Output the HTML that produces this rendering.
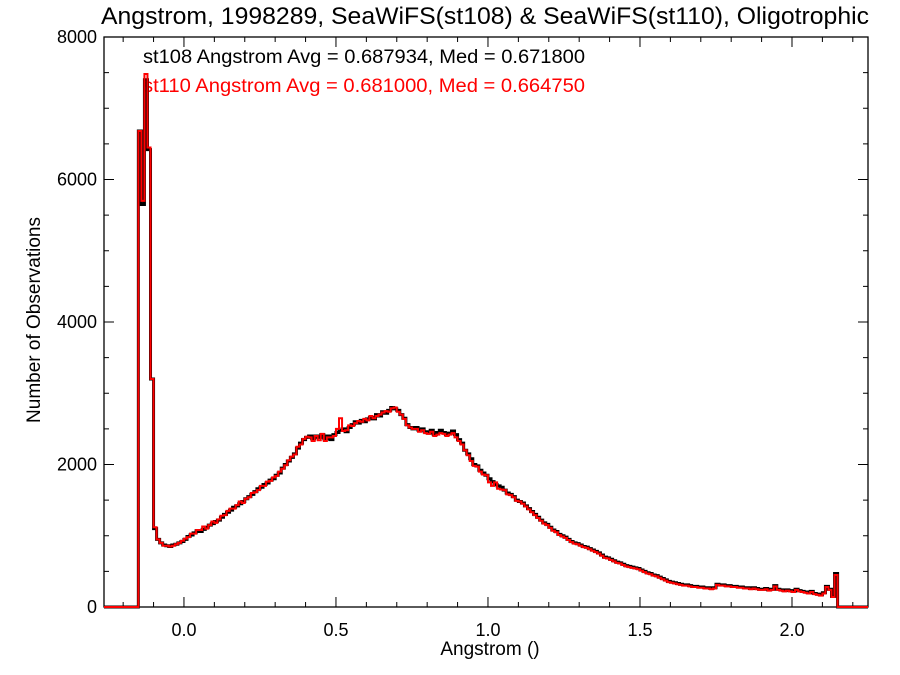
<!DOCTYPE html>
<html><head><meta charset="utf-8"><style>
html,body{margin:0;padding:0;background:#fff;}
svg{display:block;font-family:"Liberation Sans",sans-serif;}
</style></head><body>
<svg id="chart" width="900" height="675" viewBox="0 0 900 675" xmlns="http://www.w3.org/2000/svg">
<rect width="900" height="675" fill="#fff"/>
<text x="485" y="24" font-size="24" text-anchor="middle" textLength="768" lengthAdjust="spacingAndGlyphs">Angstrom, 1998289, SeaWiFS(st108) &amp; SeaWiFS(st110), Oligotrophic</text>
<text transform="translate(40,320) rotate(-90)" font-size="19" text-anchor="middle">Number of Observations</text>
<text x="490" y="655" font-size="19" text-anchor="middle">Angstrom ()</text>
<text x="143" y="63" font-size="19" fill="#000" textLength="442" lengthAdjust="spacingAndGlyphs">st108 Angstrom Avg = 0.687934, Med = 0.671800</text>
<text x="143" y="92" font-size="19" fill="#ff0000" textLength="442" lengthAdjust="spacingAndGlyphs">st110 Angstrom Avg = 0.681000, Med = 0.664750</text>
<g id="axes"></g>
<g id="series"></g>
</svg>
<script>
const binStart = -0.15;
const binWidth = 0.01;
const xTicks = [0.0, 0.5, 1.0, 1.5, 2.0];
const xTickLabels = ["0.0", "0.5", "1.0", "1.5", "2.0"];
const yTicks = [0, 2000, 4000, 6000, 8000];
const yTickLabels = ["0", "2000", "4000", "6000", "8000"];
const st108 = [
6680,5650,7400,6420,3200,1100,950,900,870,860,
850,870,880,900,920,950,990,1010,1040,1070,
1060,1090,1120,1150,1170,1200,1220,1260,1300,1330,
1360,1400,1420,1450,1480,1520,1550,1580,1620,1660,
1680,1720,1740,1780,1800,1850,1880,1950,2000,2050,
2100,2150,2230,2300,2350,2380,2400,2360,2400,2380,
2420,2360,2400,2350,2420,2450,2480,2500,2460,2520,
2560,2600,2580,2620,2600,2640,2660,2640,2700,2680,
2740,2720,2760,2800,2780,2760,2700,2650,2560,2520,
2500,2520,2480,2500,2460,2440,2480,2420,2450,2480,
2450,2420,2440,2470,2420,2350,2300,2200,2150,2080,
2000,1980,1920,1880,1850,1800,1760,1720,1700,1680,
1640,1600,1580,1550,1500,1480,1460,1420,1380,1340,
1300,1260,1220,1180,1160,1120,1080,1060,1020,1000,
980,950,920,900,890,870,850,840,820,800,
780,760,730,700,690,670,650,630,620,600,
580,570,560,550,540,520,500,480,470,450,
440,420,400,380,360,350,340,330,320,310,
310,300,290,290,280,280,270,270,260,270,
320,310,310,300,300,290,290,280,280,270,
270,260,270,260,250,250,260,240,250,300,
250,240,230,240,230,220,250,230,220,210,
200,220,190,180,170,200,290,250,150,470
];
const st110 = [
6680,5700,7480,6450,3200,1120,950,900,860,860,
850,860,880,900,930,960,980,1030,1030,1080,
1080,1130,1100,1150,1200,1180,1230,1280,1290,1350,
1380,1380,1430,1480,1460,1520,1540,1600,1610,1640,
1700,1700,1760,1770,1820,1840,1900,1940,1990,2060,
2110,2140,2250,2280,2360,2390,2380,2330,2400,2340,
2430,2330,2380,2380,2400,2500,2650,2470,2480,2550,
2540,2580,2610,2600,2640,2620,2680,2650,2680,2700,
2730,2750,2740,2790,2800,2740,2700,2640,2550,2520,
2500,2500,2460,2480,2440,2430,2460,2400,2420,2440,
2430,2400,2420,2440,2380,2330,2280,2200,2130,2050,
1980,1970,1900,1860,1850,1750,1700,1750,1660,1650,
1640,1580,1570,1540,1490,1480,1450,1410,1370,1330,
1290,1250,1210,1170,1150,1110,1070,1050,1010,990,
970,940,910,890,880,860,840,830,810,790,
770,750,720,690,680,660,640,620,610,590,
570,560,550,540,530,510,490,470,460,440,
430,410,390,370,350,340,330,320,310,300,
300,290,280,280,270,270,260,260,250,260,
310,300,300,290,290,280,280,270,270,260,
260,250,260,250,240,240,250,230,240,290,
240,230,220,230,220,210,240,220,210,200,
190,210,180,170,160,190,280,240,140,450
];
const L=104,R=868,T=37,B=607, xMin=-0.263, xMax=2.25, yMin=0, yMax=8000;
const NS="http://www.w3.org/2000/svg";
function xs(v){return L+(v-xMin)/(xMax-xMin)*(R-L);}
function ys(v){return B-(v-yMin)/(yMax-yMin)*(B-T);}
function mk(tag,attrs,parent){const e=document.createElementNS(NS,tag);for(const k in attrs)e.setAttribute(k,attrs[k]);parent.appendChild(e);return e;}
const axes=document.getElementById('axes');
const frame=mk('rect',{x:L,y:T,width:R-L,height:B-T,fill:'none',stroke:'#000','stroke-width':1.3},axes);


for(let i=-2;i<=22;i++){const v=i/10;const px=xs(v);if(px<L||px>R)continue;const major=(i%5===0);const len=major?10:5;
 const t=mk('path',{d:`M${px},${B}v${-len}M${px},${T}v${len}`,stroke:'#000','stroke-width':1},axes);
 
 }
xTicks.forEach((v,i)=>{const tx=mk('text',{x:xs(v),y:B+29,'font-size':18,'text-anchor':'middle'},axes);tx.textContent=xTickLabels[i];
 
 });
for(let v=0;v<=8000;v+=500){const py=ys(v);const major=(v%2000===0);const len=major?10:5;
 const t=mk('path',{d:`M${L},${py}h${len}M${R},${py}h${-len}`,stroke:'#000','stroke-width':1},axes);
 
 }
yTicks.forEach((v,i)=>{const tx=mk('text',{x:L-7,y:ys(v)+6,'font-size':18,'text-anchor':'end'},axes);tx.textContent=yTickLabels[i];
 
 });
function stepPath(vals){let d=`M${L},${ys(0)}H${xs(binStart)}`;vals.forEach((v,i)=>{const x1=xs(binStart+(i+1)*binWidth);d+=`V${ys(v)}H${x1}`;});d+=`V${ys(0)}H${R}`;return d;}
const series=document.getElementById('series');
const p1=mk('path',{d:stepPath(st108),fill:'none',stroke:'#000','stroke-width':3},series);


const p2=mk('path',{d:stepPath(st110),fill:'none',stroke:'#ff0000','stroke-width':2},series);


</script>
</body></html>
